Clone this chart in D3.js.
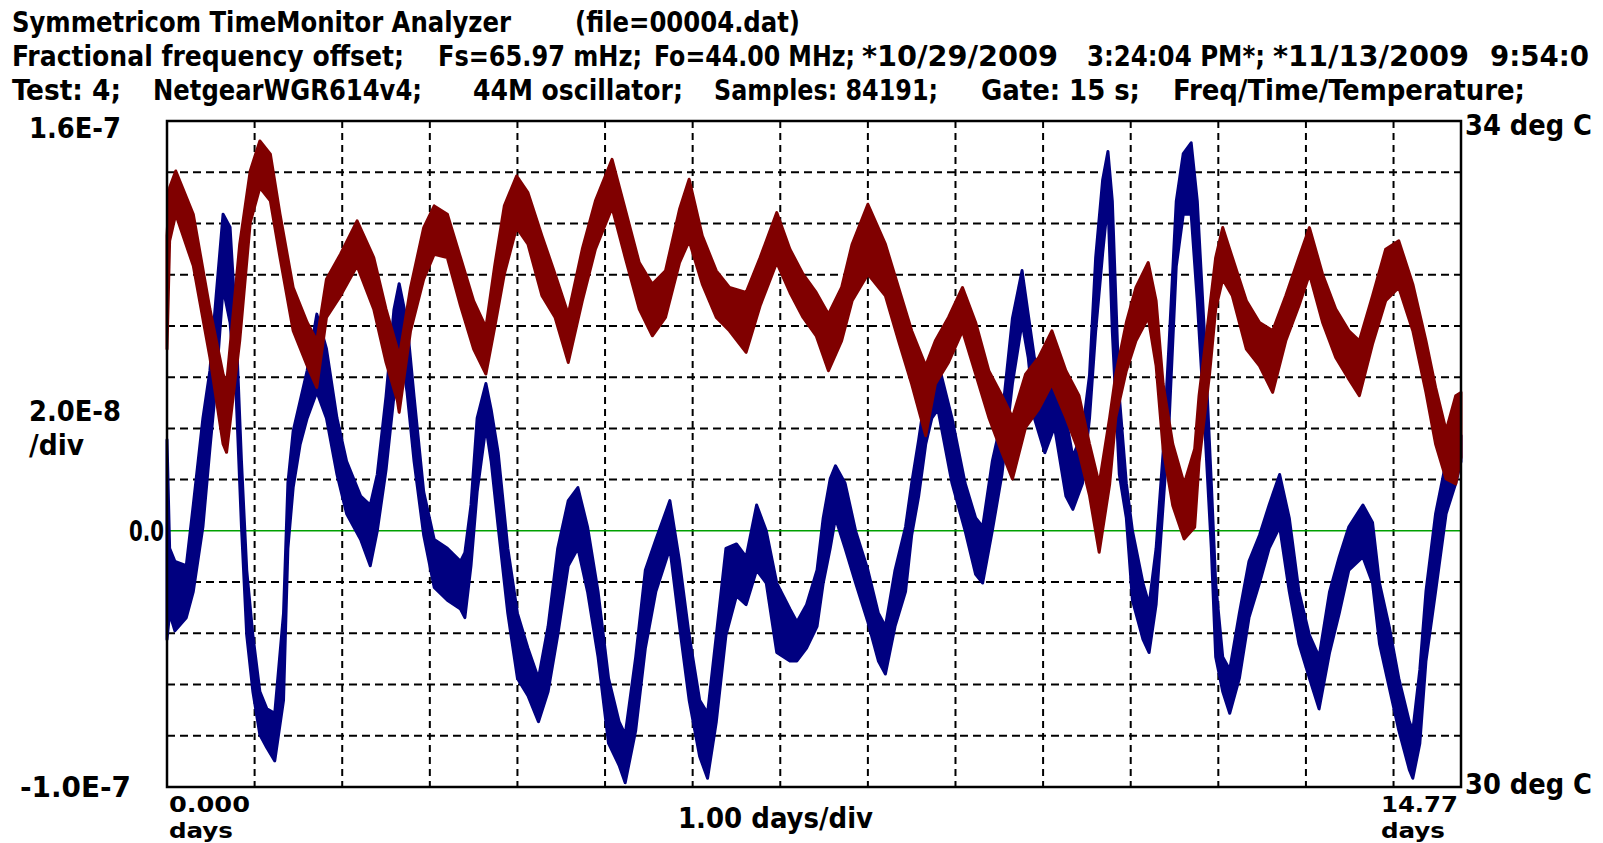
<!DOCTYPE html>
<html>
<head>
<meta charset="utf-8">
<script src="https://cdn.jsdelivr.net/npm/d3@7"></script>
<style>
  html, body { margin: 0; padding: 0; background: #fff; overflow: hidden; }
  svg { display: block; }
  text {
    font-family: "Liberation Sans Narrow", "DejaVu Sans Condensed", "Arial Narrow", sans-serif;
    font-weight: bold;
    font-size: 28px;
    fill: #000;
  }
  text.small { font-size: 22px; }
</style>
</head>
<body>
<svg id="board" width="1603" height="843"></svg>
<script>
// x axis: days since start, 1 day per division
const dayMax = 14.77;
const dayGrid = d3.range(1, 15);

// left axis: fractional frequency offset, in units of 1E-8 (2.0E-8 per division)
const freqMin = -10;
const freqMax = 16;
const freqTickValues = [16, 0, -10];
const freqTickLabels = ['1.6E-7', '0.0', '-1.0E-7'];
const freqScaleLabel = ['2.0E-8', '/div'];

// right axis: temperature, deg C
const tempMin = 30;
const tempMax = 34;
const tempTickValues = [34, 30];
const tempTickLabels = ['34 deg C', '30 deg C'];

const dayTickValues = [0, 14.77];
const dayTickLabels = ['0.000', '14.77'];
const dayUnitLabel = 'days';
const dayScaleLabel = '1.00 days/div';

const titleLines = [
  ['Symmetricom TimeMonitor Analyzer', '(file=00004.dat)'],
  ['Fractional frequency offset;', 'Fs=65.97 mHz;', 'Fo=44.00 MHz;', '*10/29/2009', '3:24:04 PM*;', '*11/13/2009', '9:54:0'],
  ['Test: 4;', 'NetgearWGR614v4;', '44M oscillator;', 'Samples: 84191;', 'Gate: 15 s;', 'Freq/Time/Temperature;']
];

// frequency trace envelope: [day, upper, lower] (x 1E-8)
const freqBand = [
  [0.00, 3.56, -4.24], [0.03, -0.68, -3.22], [0.09, -1.19, -3.90], [0.22, -1.36, -3.39],
  [0.30, 1.01, -2.37], [0.41, 4.40, 0.16], [0.49, 6.26, 3.21], [0.56, 9.14, 5.75],
  [0.64, 12.36, 9.48], [0.72, 11.85, 8.13], [0.79, 7.79, 5.25], [0.85, 2.71, 0.16],
  [0.91, -1.53, -4.07], [0.98, -4.07, -6.27], [1.06, -6.27, -7.96], [1.14, -6.95, -8.47],
  [1.23, -7.12, -8.98], [1.33, -3.22, -6.61], [1.38, 1.86, -0.68], [1.44, 3.89, 1.69],
  [1.52, 5.08, 3.38], [1.60, 6.26, 4.40], [1.71, 8.46, 5.42], [1.82, 7.11, 4.40],
  [1.94, 4.40, 2.20], [2.05, 2.71, 0.67], [2.21, 1.36, -0.34], [2.32, 1.01, -1.36],
  [2.40, 2.20, 0.00], [2.50, 5.25, 2.37], [2.59, 8.63, 5.25], [2.65, 9.65, 7.45],
  [2.74, 8.13, 5.42], [2.82, 5.25, 2.71], [2.93, 1.52, -0.17], [3.05, -0.34, -2.21],
  [3.20, -0.68, -2.71], [3.35, -1.19, -3.05], [3.40, -0.85, -3.39], [3.47, 1.01, -1.36],
  [3.54, 4.40, 1.52], [3.64, 5.75, 4.06], [3.70, 4.74, 2.71], [3.78, 3.05, 0.16],
  [3.89, -0.68, -3.22], [4.00, -3.22, -5.76], [4.12, -4.58, -6.44], [4.24, -5.76, -7.45],
  [4.35, -3.73, -6.27], [4.46, -0.68, -4.07], [4.58, 1.18, -1.36], [4.69, 1.69, -0.68],
  [4.80, 0.16, -2.37], [4.92, -2.37, -4.92], [5.04, -5.76, -8.30], [5.16, -7.45, -9.15],
  [5.23, -7.96, -9.83], [5.35, -4.92, -7.79], [5.46, -1.53, -4.58], [5.58, -0.34, -2.37],
  [5.74, 1.18, -0.68], [5.85, -1.19, -3.73], [5.96, -4.07, -6.61], [6.08, -6.61, -8.81],
  [6.17, -7.12, -9.66], [6.27, -4.07, -7.45], [6.38, -0.68, -4.07], [6.50, -0.51, -2.54],
  [6.61, -1.02, -2.88], [6.73, 1.01, -1.53], [6.84, 0.00, -2.04], [6.96, -2.04, -4.75],
  [7.11, -3.05, -5.08], [7.19, -3.56, -5.08], [7.30, -2.88, -4.58], [7.42, -1.53, -3.73],
  [7.49, 0.50, -2.04], [7.57, 2.03, -0.68], [7.63, 2.54, 0.50], [7.74, 1.86, -0.68],
  [7.86, 0.00, -2.04], [8.00, -1.53, -3.56], [8.12, -3.22, -5.08], [8.20, -3.73, -5.59],
  [8.31, -1.53, -3.73], [8.43, 0.16, -2.37], [8.50, 1.86, -0.17], [8.58, 3.56, 1.36],
  [8.66, 5.42, 3.38], [8.73, 6.26, 4.40], [8.80, 6.60, 4.74], [8.96, 4.40, 1.86],
  [9.11, 1.86, 0.00], [9.23, 0.50, -1.70], [9.31, 0.16, -2.04], [9.42, 2.71, 0.00],
  [9.53, 4.40, 2.20], [9.65, 8.30, 5.75], [9.76, 10.16, 8.13], [9.83, 8.46, 6.77],
  [9.90, 6.77, 4.40], [10.02, 5.58, 3.05], [10.13, 6.09, 4.06], [10.26, 4.40, 1.36],
  [10.34, 2.88, 0.84], [10.45, 3.89, 1.86], [10.53, 6.09, 4.40], [10.60, 10.67, 7.79],
  [10.68, 13.71, 10.84], [10.74, 14.81, 12.87], [10.79, 12.87, 7.79], [10.87, 5.25, 2.20],
  [10.95, 1.86, 0.50], [11.02, 0.00, -2.71], [11.14, -2.04, -4.24], [11.21, -2.88, -4.75],
  [11.29, -0.68, -2.88], [11.37, 3.05, 1.01], [11.44, 7.45, 4.40], [11.52, 12.87, 10.33],
  [11.60, 14.73, 12.36], [11.69, 15.15, 12.36], [11.76, 12.87, 8.97], [11.84, 7.79, 4.40],
  [11.92, 1.86, -0.68], [11.97, -2.04, -4.92], [12.05, -4.92, -6.27], [12.13, -5.42, -7.12],
  [12.24, -3.22, -5.76], [12.35, -1.19, -3.39], [12.47, -0.17, -2.04], [12.58, 1.01, -0.68],
  [12.70, 2.20, 0.16], [12.81, 0.50, -2.37], [12.92, -2.37, -4.41], [13.04, -4.07, -5.76],
  [13.15, -4.92, -6.95], [13.27, -2.37, -4.75], [13.38, -1.02, -3.22], [13.49, 0.16, -1.53],
  [13.65, 1.01, -1.02], [13.76, 0.33, -2.04], [13.84, -2.04, -4.41], [13.95, -3.73, -6.10],
  [14.06, -5.76, -7.79], [14.18, -7.45, -9.32], [14.22, -7.79, -9.66], [14.30, -5.42, -8.30],
  [14.37, -2.37, -5.08], [14.48, 0.67, -2.37], [14.60, 2.71, 0.67], [14.71, 3.72, 1.86],
  [14.77, 3.72, 2.71]
];

// temperature trace envelope: [day, upper, lower] (deg C)
const tempBand = [
  [0.00, 33.31, 32.63], [0.03, 33.60, 33.28], [0.10, 33.70, 33.44], [0.30, 33.44, 33.13],
  [0.49, 32.87, 32.58], [0.64, 32.48, 32.06], [0.68, 32.42, 32.01], [0.83, 33.26, 32.68],
  [0.95, 33.70, 33.39], [1.06, 33.88, 33.60], [1.18, 33.80, 33.52], [1.29, 33.44, 33.18],
  [1.44, 33.00, 32.74], [1.60, 32.79, 32.53], [1.71, 32.68, 32.40], [1.82, 33.05, 32.82],
  [1.98, 33.20, 32.95], [2.17, 33.40, 33.13], [2.36, 33.18, 32.87], [2.50, 32.87, 32.55],
  [2.63, 32.63, 32.32], [2.65, 32.58, 32.25], [2.78, 33.00, 32.74], [2.93, 33.36, 33.05],
  [3.05, 33.49, 33.20], [3.20, 33.44, 33.18], [3.35, 33.18, 32.89], [3.50, 32.92, 32.63],
  [3.64, 32.76, 32.48], [3.74, 33.13, 32.76], [3.85, 33.49, 33.08], [3.99, 33.67, 33.36],
  [4.12, 33.57, 33.26], [4.28, 33.31, 32.95], [4.43, 33.08, 32.82], [4.58, 32.84, 32.55],
  [4.74, 33.23, 32.92], [4.89, 33.52, 33.23], [5.08, 33.77, 33.48], [5.23, 33.47, 33.18],
  [5.39, 33.15, 32.87], [5.54, 33.02, 32.71], [5.69, 33.10, 32.82], [5.85, 33.47, 33.15],
  [5.96, 33.65, 33.28], [6.11, 33.31, 33.02], [6.27, 33.10, 32.82], [6.42, 33.00, 32.74],
  [6.61, 32.97, 32.61], [6.77, 33.18, 32.89], [6.96, 33.45, 33.15], [7.11, 33.23, 32.97],
  [7.26, 33.08, 32.82], [7.41, 32.97, 32.71], [7.55, 32.84, 32.50], [7.70, 33.00, 32.68],
  [7.82, 33.26, 32.92], [8.00, 33.50, 33.08], [8.20, 33.26, 32.95], [8.35, 33.00, 32.68],
  [8.50, 32.74, 32.42], [8.66, 32.53, 32.11], [8.77, 32.68, 32.42], [8.92, 32.82, 32.55],
  [9.08, 33.00, 32.74], [9.23, 32.79, 32.48], [9.38, 32.50, 32.22], [9.53, 32.35, 32.01],
  [9.65, 32.22, 31.85], [9.80, 32.48, 32.16], [9.95, 32.58, 32.27], [10.10, 32.74, 32.42],
  [10.26, 32.50, 32.22], [10.41, 32.35, 32.01], [10.53, 32.06, 31.75], [10.64, 31.82, 31.41],
  [10.76, 32.22, 31.82], [10.83, 32.48, 32.22], [10.95, 32.79, 32.50], [11.06, 33.00, 32.68],
  [11.20, 33.15, 32.82], [11.29, 32.92, 32.53], [11.37, 32.42, 32.03], [11.48, 32.06, 31.69],
  [11.61, 31.82, 31.49], [11.73, 32.03, 31.56], [11.78, 32.35, 31.95], [11.90, 32.87, 32.48],
  [11.97, 33.18, 32.87], [12.05, 33.36, 33.05], [12.16, 33.18, 32.95], [12.32, 32.92, 32.63],
  [12.47, 32.79, 32.53], [12.62, 32.74, 32.37], [12.77, 32.95, 32.68], [12.92, 33.18, 32.89],
  [13.04, 33.36, 33.08], [13.19, 33.08, 32.79], [13.34, 32.87, 32.58], [13.49, 32.74, 32.45],
  [13.61, 32.68, 32.35], [13.76, 32.95, 32.66], [13.91, 33.23, 32.92], [14.06, 33.28, 33.00],
  [14.22, 33.02, 32.74], [14.37, 32.68, 32.37], [14.48, 32.40, 32.06], [14.60, 32.14, 31.85],
  [14.71, 32.35, 31.82], [14.77, 32.37, 31.98]
];

// ---- layout ----
const plot = {left: 167, right: 1461, top: 121, bottom: 787};
const freqColor = '#000080';
const tempColor = '#800000';

const titleLayout = [
  {baseline: 32, spans: [[12, 511], [575, 800]]},
  {baseline: 66, spans: [[12, 404], [438, 642], [654, 855], [862, 1058], [1087, 1265], [1273, 1469], [1490, 1589]]},
  {baseline: 100, spans: [[12, 121], [153, 422], [473, 683], [714, 938], [981, 1140], [1173, 1525]]}
];

const svg = d3.select('#board');

const x = d3.scaleLinear().domain([0, dayMax]).range([plot.left, plot.right]);
const yFreq = d3.scaleLinear().domain([freqMin, freqMax]).range([plot.bottom, plot.top]);
const yTemp = d3.scaleLinear().domain([tempMin, tempMax]).range([plot.bottom, plot.top]);

renderTitle();
renderGrid();
renderTraces();
renderFrame();
renderAxisLabels();

function renderTitle() {
  titleLines.forEach(function(parts, i) {
    var row = titleLayout[i];
    parts.forEach(function(str, j) {
      addFittedText(str, row.spans[j][0], row.spans[j][1], row.baseline);
    });
  });
}

function renderGrid() {
  var grid = svg.append('g').attr('class', 'grid-layer');

  grid.selectAll('.grid-v').data(dayGrid).enter().append('line')
    .classed('grid-v', true)
    .attr('x1', x).attr('x2', x)
    .attr('y1', plot.top).attr('y2', plot.bottom)
    .attr('stroke', '#000')
    .attr('stroke-width', 2)
    .attr('stroke-dasharray', '7,5');

  var freqGrid = d3.range(freqMin + 2, freqMax, 2).filter(function(v) { return v !== 0; });
  grid.selectAll('.grid-h').data(freqGrid).enter().append('line')
    .classed('grid-h', true)
    .attr('x1', plot.left).attr('x2', plot.right)
    .attr('y1', yFreq).attr('y2', yFreq)
    .attr('stroke', '#000')
    .attr('stroke-width', 2)
    .attr('stroke-dasharray', '8,5');

  grid.append('line')
    .attr('x1', plot.left).attr('x2', plot.right)
    .attr('y1', yFreq(0)).attr('y2', yFreq(0))
    .attr('stroke', '#00a000')
    .attr('stroke-width', 1.5);
}

function renderTraces() {
  var layer = svg.append('g').attr('class', 'trace-layer');

  var freqArea = d3.area()
    .x(function(d) { return x(d[0]); })
    .y0(function(d) { return yFreq(d[2]); })
    .y1(function(d) { return yFreq(d[1]); });

  var tempArea = d3.area()
    .x(function(d) { return x(d[0]); })
    .y0(function(d) { return yTemp(d[2]); })
    .y1(function(d) { return yTemp(d[1]); });

  // the stroke stands in for the sample-to-sample jitter around the band edges
  layer.append('path')
    .datum(freqBand)
    .attr('d', freqArea)
    .attr('fill', freqColor)
    .attr('stroke', freqColor)
    .attr('stroke-width', 3)
    .attr('stroke-linejoin', 'round');

  layer.append('path')
    .datum(tempBand)
    .attr('d', tempArea)
    .attr('fill', tempColor)
    .attr('stroke', tempColor)
    .attr('stroke-width', 3)
    .attr('stroke-linejoin', 'round');
}

function renderFrame() {
  svg.append('rect')
    .attr('x', plot.left)
    .attr('y', plot.top)
    .attr('width', plot.right - plot.left)
    .attr('height', plot.bottom - plot.top)
    .attr('fill', 'none')
    .attr('stroke', '#000')
    .attr('stroke-width', 2.5);
}

function renderAxisLabels() {
  // left axis: x spans of each label
  var freqSpans = [[29, 121], [129, 164], [20, 131]];
  var freqNudge = [7, 0, 0];
  freqTickValues.forEach(function(v, i) {
    addFittedText(freqTickLabels[i], freqSpans[i][0], freqSpans[i][1], yFreq(v) + 10 + freqNudge[i]);
  });
  addFittedText(freqScaleLabel[0], 29, 121, 421);
  addFittedText(freqScaleLabel[1], 29, 84, 455);

  // right axis
  var tempNudge = [4, -3];
  tempTickValues.forEach(function(v, i) {
    addFittedText(tempTickLabels[i], 1465, 1592, yTemp(v) + 10 + tempNudge[i]);
  });

  // bottom axis
  var daySpans = [[169, 250], [1381, 1458]];
  dayTickValues.forEach(function(v, i) {
    var x0 = daySpans[i][0];
    addFittedText(dayTickLabels[i], x0, daySpans[i][1], 812).classed('small', true);
    addFittedText(dayUnitLabel, x0, x0 + 64, 838).classed('small', true);
  });
  addFittedText(dayScaleLabel, 678, 873, 828);
}

function addFittedText(str, x0, x1, baseline) {
  return svg.append('text')
    .attr('x', x0)
    .attr('y', baseline)
    .attr('textLength', x1 - x0)
    .attr('lengthAdjust', 'spacingAndGlyphs')
    .text(str);
}
</script>
</body>
</html>
